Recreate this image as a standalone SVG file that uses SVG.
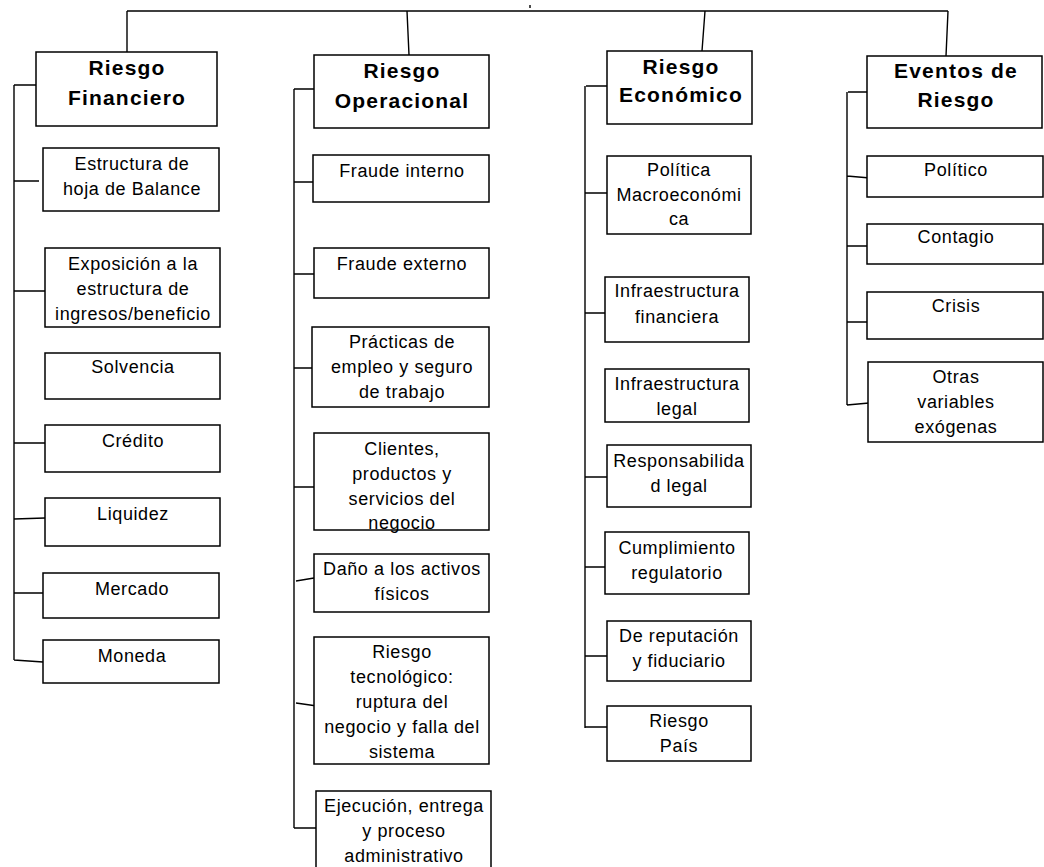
<svg xmlns="http://www.w3.org/2000/svg" width="1044" height="867" viewBox="0 0 1044 867">
<style>
.box{fill:#fff;stroke:#000;stroke-width:1.5}
.ln{stroke:#000;stroke-width:1.4;fill:none}
text{font-family:"Liberation Sans",Arial,sans-serif;fill:#000;text-anchor:middle}
.t{font-size:18px;letter-spacing:0.6px}
.h{font-size:21px;font-weight:bold;letter-spacing:1.2px}
</style>
<rect width="1044" height="867" fill="#fff"/>
<g id="connectors">
<path class="ln" d="M127,11H948M530,5V8M127,11V52M407,11L409,55M705,11L702,51M948,11L946,56"/>
<path class="ln" d="M14,85H36M14,85V660M14,181H39M14,291H45M14,443H45M14,519L45,518M14,593H45M14,660L43,662"/>
<path class="ln" d="M294,89H314M294,89V828M294,182H313M294,274H317M294,368H312M294,487H314M296,581L314,578M296,703L317,706M294,828H316"/>
<path class="ln" d="M586,86H607M585,86V728M585,193H607M585,313H605M585,477H607M585,567H608M585,656H607M585,727H607"/>
<path class="ln" d="M848,92H867M847,92V405M847,176L870,178M847,246H867M847,322H867M847,405L869,403"/>
</g>
<g id="riesgo-financiero"><rect class="box" x="36" y="52" width="181" height="74"/><text class="h" x="127" y="75">Riesgo</text><text class="h" x="127" y="105">Financiero</text></g>
<g id="riesgo-operacional"><rect class="box" x="314" y="55" width="175" height="73"/><text class="h" x="402" y="78">Riesgo</text><text class="h" x="402" y="108">Operacional</text></g>
<g id="riesgo-economico"><rect class="box" x="607" y="51" width="145" height="73"/><text class="h" x="681" y="74">Riesgo</text><text class="h" x="681" y="102">Económico</text></g>
<g id="eventos-de-riesgo"><rect class="box" x="867" y="56" width="175" height="72"/><text class="h" x="956" y="78">Eventos de</text><text class="h" x="956" y="107">Riesgo</text></g>

<g id="estructura-balance"><rect class="box" x="43" y="148" width="176" height="63"/><text class="t" x="132" y="170">Estructura de</text><text class="t" x="132" y="195">hoja de Balance</text></g>
<g id="exposicion"><rect class="box" x="45" y="248" width="175" height="79"/><text class="t" x="133" y="270">Exposición a la</text><text class="t" x="133" y="295">estructura de</text><text class="t" x="133" y="320">ingresos/beneficio</text></g>
<g id="solvencia"><rect class="box" x="45" y="353" width="175" height="46"/><text class="t" x="133" y="373">Solvencia</text></g>
<g id="credito"><rect class="box" x="45" y="425" width="175" height="47"/><text class="t" x="133" y="447">Crédito</text></g>
<g id="liquidez"><rect class="box" x="45" y="498" width="175" height="48"/><text class="t" x="133" y="520">Liquidez</text></g>
<g id="mercado"><rect class="box" x="43" y="573" width="176" height="45"/><text class="t" x="132" y="595">Mercado</text></g>
<g id="moneda"><rect class="box" x="43" y="640" width="176" height="43"/><text class="t" x="132" y="662">Moneda</text></g>

<g id="fraude-interno"><rect class="box" x="313" y="155" width="176" height="47"/><text class="t" x="402" y="177">Fraude interno</text></g>
<g id="fraude-externo"><rect class="box" x="314" y="248" width="175" height="50"/><text class="t" x="402" y="270">Fraude externo</text></g>
<g id="practicas"><rect class="box" x="312" y="327" width="177" height="80"/><text class="t" x="402" y="348">Prácticas de</text><text class="t" x="402" y="373">empleo y seguro</text><text class="t" x="402" y="398">de trabajo</text></g>
<g id="clientes"><rect class="box" x="314" y="433" width="175" height="97"/><text class="t" x="402" y="455">Clientes,</text><text class="t" x="402" y="480">productos y</text><text class="t" x="402" y="505">servicios del</text><text class="t" x="402" y="529">negocio</text></g>
<g id="dano"><rect class="box" x="314" y="554" width="175" height="58"/><text class="t" x="402" y="575">Daño a los activos</text><text class="t" x="402" y="600">físicos</text></g>
<g id="riesgo-tecnologico"><rect class="box" x="314" y="637" width="175" height="127"/><text class="t" x="402" y="658">Riesgo</text><text class="t" x="402" y="683">tecnológico:</text><text class="t" x="402" y="708">ruptura del</text><text class="t" x="402" y="733">negocio y falla del</text><text class="t" x="402" y="758">sistema</text></g>
<g id="ejecucion"><rect class="box" x="316" y="791" width="175" height="90"/><text class="t" x="404" y="812">Ejecución, entrega</text><text class="t" x="404" y="837">y proceso</text><text class="t" x="404" y="862">administrativo</text></g>

<g id="politica-macro"><rect class="box" x="607" y="156" width="144" height="78"/><text class="t" x="679" y="176">Política</text><text class="t" x="679" y="201">Macroeconómi</text><text class="t" x="679" y="225">ca</text></g>
<g id="infra-financiera"><rect class="box" x="605" y="277" width="144" height="65"/><text class="t" x="677" y="297">Infraestructura</text><text class="t" x="677" y="323">financiera</text></g>
<g id="infra-legal"><rect class="box" x="605" y="369" width="144" height="53"/><text class="t" x="677" y="390">Infraestructura</text><text class="t" x="677" y="415">legal</text></g>
<g id="responsabilidad"><rect class="box" x="607" y="445" width="144" height="62"/><text class="t" x="679" y="467">Responsabilida</text><text class="t" x="679" y="492">d legal</text></g>
<g id="cumplimiento"><rect class="box" x="605" y="532" width="144" height="62"/><text class="t" x="677" y="554">Cumplimiento</text><text class="t" x="677" y="579">regulatorio</text></g>
<g id="reputacion"><rect class="box" x="607" y="621" width="144" height="60"/><text class="t" x="679" y="642">De reputación</text><text class="t" x="679" y="667">y fiduciario</text></g>
<g id="riesgo-pais"><rect class="box" x="607" y="706" width="144" height="55"/><text class="t" x="679" y="727">Riesgo</text><text class="t" x="679" y="752">País</text></g>

<g id="politico"><rect class="box" x="867" y="156" width="176" height="41"/><text class="t" x="956" y="176">Político</text></g>
<g id="contagio"><rect class="box" x="867" y="224" width="176" height="40"/><text class="t" x="956" y="243">Contagio</text></g>
<g id="crisis"><rect class="box" x="867" y="292" width="176" height="47"/><text class="t" x="956" y="312">Crisis</text></g>
<g id="otras-variables"><rect class="box" x="868" y="362" width="175" height="80"/><text class="t" x="956" y="383">Otras</text><text class="t" x="956" y="408">variables</text><text class="t" x="956" y="433">exógenas</text></g>
</svg>
